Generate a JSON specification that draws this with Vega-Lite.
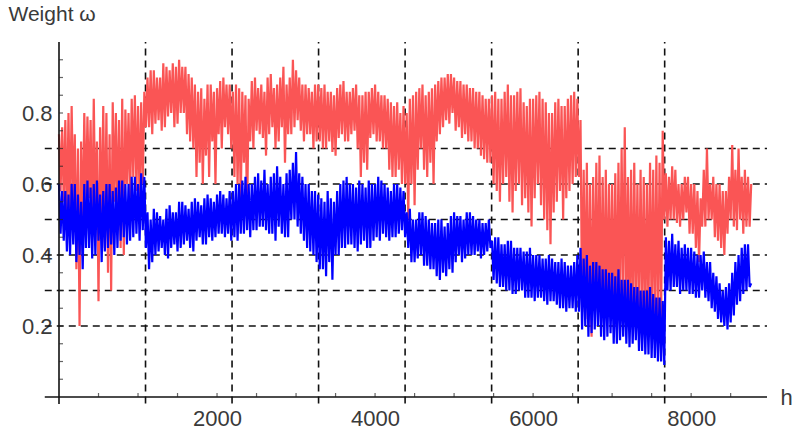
{
  "$schema": "https://vega.github.io/schema/vega-lite/v6.json",
  "width": 708,
  "height": 355,
  "autosize": {"type": "none"},
  "padding": {"left": 59, "top": 42, "right": 28, "bottom": 35},
  "background": "white",
  "config": {
    "view": {"stroke": null},
    "axis": {
      "labelFont": "Liberation Sans",
      "labelFontSize": 22,
      "labelColor": "#3a3a3a",
      "labelOverlap": false,
      "titleFont": "Liberation Sans",
      "titleColor": "#3a3a3a",
      "titleFontWeight": "normal",
      "domain": false,
      "grid": false,
      "ticks": false
    }
  },
  "data": {
    "values": [
      {"h":0,"r":0.74,"b":0.6},{"h":20,"r":0.58,"b":0.46},{"h":40,"r":0.76,"b":0.58},{"h":60,"r":0.55,"b":0.44},{"h":80,"r":0.78,"b":0.58},{"h":100,"r":0.48,"b":0.41},{"h":120,"r":0.8,"b":0.57},{"h":140,"r":0.5,"b":0.4},{"h":160,"r":0.82,"b":0.6},{"h":180,"r":0.55,"b":0.43},
      {"h":200,"r":0.74,"b":0.6},{"h":220,"r":0.36,"b":0.38},{"h":240,"r":0.7,"b":0.57},{"h":260,"r":0.2,"b":0.4},{"h":280,"r":0.72,"b":0.55},{"h":300,"r":0.45,"b":0.36},{"h":320,"r":0.8,"b":0.6},{"h":340,"r":0.52,"b":0.42},{"h":360,"r":0.79,"b":0.61},{"h":380,"r":0.56,"b":0.42},
      {"h":400,"r":0.78,"b":0.59},{"h":420,"r":0.45,"b":0.39},{"h":440,"r":0.84,"b":0.6},{"h":460,"r":0.5,"b":0.4},{"h":480,"r":0.72,"b":0.61},{"h":500,"r":0.27,"b":0.44},{"h":520,"r":0.76,"b":0.57},{"h":540,"r":0.46,"b":0.38},{"h":560,"r":0.82,"b":0.58},{"h":580,"r":0.42,"b":0.41},
      {"h":600,"r":0.8,"b":0.6},{"h":620,"r":0.35,"b":0.42},{"h":640,"r":0.74,"b":0.6},{"h":660,"r":0.3,"b":0.43},{"h":680,"r":0.83,"b":0.58},{"h":700,"r":0.55,"b":0.4},{"h":720,"r":0.8,"b":0.59},{"h":740,"r":0.5,"b":0.42},{"h":760,"r":0.78,"b":0.61},{"h":780,"r":0.42,"b":0.44},
      {"h":800,"r":0.84,"b":0.61},{"h":820,"r":0.4,"b":0.45},{"h":840,"r":0.81,"b":0.6},{"h":860,"r":0.6,"b":0.43},{"h":880,"r":0.8,"b":0.6},{"h":900,"r":0.55,"b":0.44},{"h":920,"r":0.84,"b":0.62},{"h":940,"r":0.62,"b":0.45},{"h":960,"r":0.85,"b":0.62},{"h":980,"r":0.58,"b":0.46},
      {"h":1000,"r":0.82,"b":0.6},{"h":1020,"r":0.55,"b":0.44},{"h":1040,"r":0.83,"b":0.63},{"h":1060,"r":0.6,"b":0.47},{"h":1080,"r":0.86,"b":0.62},{"h":1100,"r":0.76,"b":0.42},{"h":1120,"r":0.9,"b":0.52},{"h":1140,"r":0.76,"b":0.36},{"h":1160,"r":0.92,"b":0.5},{"h":1180,"r":0.74,"b":0.38},
      {"h":1200,"r":0.92,"b":0.53},{"h":1220,"r":0.77,"b":0.4},{"h":1240,"r":0.9,"b":0.52},{"h":1260,"r":0.78,"b":0.41},{"h":1280,"r":0.9,"b":0.51},{"h":1300,"r":0.75,"b":0.42},{"h":1320,"r":0.94,"b":0.5},{"h":1340,"r":0.76,"b":0.4},{"h":1360,"r":0.93,"b":0.53},{"h":1380,"r":0.79,"b":0.39},
      {"h":1400,"r":0.92,"b":0.54},{"h":1420,"r":0.8,"b":0.42},{"h":1440,"r":0.94,"b":0.52},{"h":1460,"r":0.76,"b":0.43},{"h":1480,"r":0.93,"b":0.52},{"h":1500,"r":0.77,"b":0.41},{"h":1520,"r":0.95,"b":0.55},{"h":1540,"r":0.8,"b":0.42},{"h":1560,"r":0.93,"b":0.55},{"h":1580,"r":0.8,"b":0.43},
      {"h":1600,"r":0.93,"b":0.54},{"h":1620,"r":0.74,"b":0.44},{"h":1640,"r":0.91,"b":0.53},{"h":1660,"r":0.72,"b":0.42},{"h":1680,"r":0.9,"b":0.55},{"h":1700,"r":0.7,"b":0.41},{"h":1720,"r":0.88,"b":0.56},{"h":1740,"r":0.62,"b":0.44},{"h":1760,"r":0.86,"b":0.55},{"h":1780,"r":0.66,"b":0.45},
      {"h":1800,"r":0.87,"b":0.54},{"h":1820,"r":0.6,"b":0.43},{"h":1840,"r":0.84,"b":0.56},{"h":1860,"r":0.68,"b":0.43},{"h":1880,"r":0.88,"b":0.57},{"h":1900,"r":0.62,"b":0.45},{"h":1920,"r":0.88,"b":0.56},{"h":1940,"r":0.72,"b":0.44},{"h":1960,"r":0.86,"b":0.55},{"h":1980,"r":0.6,"b":0.45},
      {"h":2000,"r":0.87,"b":0.57},{"h":2020,"r":0.74,"b":0.46},{"h":2040,"r":0.89,"b":0.58},{"h":2060,"r":0.7,"b":0.46},{"h":2080,"r":0.9,"b":0.57},{"h":2100,"r":0.76,"b":0.45},{"h":2120,"r":0.88,"b":0.56},{"h":2140,"r":0.74,"b":0.46},{"h":2160,"r":0.88,"b":0.58},{"h":2180,"r":0.7,"b":0.44},
      {"h":2200,"r":0.86,"b":0.58},{"h":2220,"r":0.62,"b":0.45},{"h":2240,"r":0.88,"b":0.6},{"h":2260,"r":0.6,"b":0.44},{"h":2280,"r":0.87,"b":0.6},{"h":2300,"r":0.55,"b":0.46},{"h":2320,"r":0.86,"b":0.61},{"h":2340,"r":0.66,"b":0.46},{"h":2360,"r":0.85,"b":0.62},{"h":2380,"r":0.5,"b":0.47},
      {"h":2400,"r":0.84,"b":0.6},{"h":2420,"r":0.72,"b":0.45},{"h":2440,"r":0.89,"b":0.6},{"h":2460,"r":0.7,"b":0.47},{"h":2480,"r":0.9,"b":0.62},{"h":2500,"r":0.75,"b":0.47},{"h":2520,"r":0.87,"b":0.63},{"h":2540,"r":0.74,"b":0.48},{"h":2560,"r":0.88,"b":0.61},{"h":2580,"r":0.73,"b":0.48},
      {"h":2600,"r":0.86,"b":0.64},{"h":2620,"r":0.68,"b":0.47},{"h":2640,"r":0.9,"b":0.6},{"h":2660,"r":0.74,"b":0.46},{"h":2680,"r":0.91,"b":0.62},{"h":2700,"r":0.76,"b":0.46},{"h":2720,"r":0.87,"b":0.63},{"h":2740,"r":0.7,"b":0.44},{"h":2760,"r":0.88,"b":0.65},{"h":2780,"r":0.72,"b":0.48},
      {"h":2800,"r":0.9,"b":0.62},{"h":2820,"r":0.76,"b":0.46},{"h":2840,"r":0.93,"b":0.6},{"h":2860,"r":0.66,"b":0.45},{"h":2880,"r":0.88,"b":0.63},{"h":2900,"r":0.74,"b":0.45},{"h":2920,"r":0.9,"b":0.64},{"h":2940,"r":0.74,"b":0.5},{"h":2960,"r":0.95,"b":0.66},{"h":2980,"r":0.76,"b":0.5},
      {"h":3000,"r":0.92,"b":0.69},{"h":3020,"r":0.78,"b":0.48},{"h":3040,"r":0.9,"b":0.63},{"h":3060,"r":0.75,"b":0.46},{"h":3080,"r":0.88,"b":0.62},{"h":3100,"r":0.72,"b":0.44},{"h":3120,"r":0.88,"b":0.6},{"h":3140,"r":0.74,"b":0.42},{"h":3160,"r":0.87,"b":0.6},{"h":3180,"r":0.74,"b":0.41},
      {"h":3200,"r":0.86,"b":0.58},{"h":3220,"r":0.7,"b":0.4},{"h":3240,"r":0.88,"b":0.58},{"h":3260,"r":0.72,"b":0.38},{"h":3280,"r":0.88,"b":0.57},{"h":3300,"r":0.72,"b":0.36},{"h":3320,"r":0.87,"b":0.56},{"h":3340,"r":0.7,"b":0.36},{"h":3360,"r":0.88,"b":0.55},{"h":3380,"r":0.7,"b":0.34},
      {"h":3400,"r":0.86,"b":0.58},{"h":3420,"r":0.72,"b":0.38},{"h":3440,"r":0.86,"b":0.56},{"h":3460,"r":0.69,"b":0.33},{"h":3480,"r":0.85,"b":0.55},{"h":3500,"r":0.68,"b":0.4},{"h":3520,"r":0.87,"b":0.58},{"h":3540,"r":0.73,"b":0.4},{"h":3560,"r":0.88,"b":0.6},{"h":3580,"r":0.74,"b":0.42},
      {"h":3600,"r":0.89,"b":0.61},{"h":3620,"r":0.72,"b":0.42},{"h":3640,"r":0.86,"b":0.62},{"h":3660,"r":0.72,"b":0.43},{"h":3680,"r":0.86,"b":0.6},{"h":3700,"r":0.74,"b":0.43},{"h":3720,"r":0.87,"b":0.6},{"h":3740,"r":0.75,"b":0.42},{"h":3760,"r":0.88,"b":0.59},{"h":3780,"r":0.7,"b":0.41},
      {"h":3800,"r":0.85,"b":0.61},{"h":3820,"r":0.62,"b":0.43},{"h":3840,"r":0.85,"b":0.6},{"h":3860,"r":0.66,"b":0.44},{"h":3880,"r":0.86,"b":0.59},{"h":3900,"r":0.64,"b":0.42},{"h":3920,"r":0.86,"b":0.61},{"h":3940,"r":0.73,"b":0.42},{"h":3960,"r":0.87,"b":0.6},{"h":3980,"r":0.74,"b":0.44},
      {"h":4000,"r":0.88,"b":0.6},{"h":4020,"r":0.72,"b":0.45},{"h":4040,"r":0.86,"b":0.62},{"h":4060,"r":0.72,"b":0.44},{"h":4080,"r":0.85,"b":0.61},{"h":4100,"r":0.7,"b":0.46},{"h":4120,"r":0.85,"b":0.6},{"h":4140,"r":0.7,"b":0.45},{"h":4160,"r":0.84,"b":0.59},{"h":4180,"r":0.64,"b":0.44},
      {"h":4200,"r":0.83,"b":0.58},{"h":4220,"r":0.62,"b":0.45},{"h":4240,"r":0.82,"b":0.6},{"h":4260,"r":0.62,"b":0.45},{"h":4280,"r":0.83,"b":0.6},{"h":4300,"r":0.64,"b":0.46},{"h":4320,"r":0.8,"b":0.59},{"h":4340,"r":0.6,"b":0.47},{"h":4360,"r":0.82,"b":0.58},{"h":4380,"r":0.6,"b":0.45},
      {"h":4400,"r":0.8,"b":0.52},{"h":4420,"r":0.5,"b":0.42},{"h":4440,"r":0.84,"b":0.53},{"h":4460,"r":0.6,"b":0.38},{"h":4480,"r":0.85,"b":0.5},{"h":4500,"r":0.54,"b":0.38},{"h":4520,"r":0.86,"b":0.5},{"h":4540,"r":0.64,"b":0.39},{"h":4560,"r":0.87,"b":0.52},{"h":4580,"r":0.7,"b":0.4},
      {"h":4600,"r":0.88,"b":0.52},{"h":4620,"r":0.64,"b":0.37},{"h":4640,"r":0.85,"b":0.51},{"h":4660,"r":0.62,"b":0.37},{"h":4680,"r":0.86,"b":0.5},{"h":4700,"r":0.66,"b":0.36},{"h":4720,"r":0.87,"b":0.49},{"h":4740,"r":0.6,"b":0.36},{"h":4760,"r":0.88,"b":0.49},{"h":4780,"r":0.72,"b":0.34},
      {"h":4800,"r":0.89,"b":0.5},{"h":4820,"r":0.74,"b":0.33},{"h":4840,"r":0.9,"b":0.5},{"h":4860,"r":0.76,"b":0.35},{"h":4880,"r":0.9,"b":0.48},{"h":4900,"r":0.78,"b":0.34},{"h":4920,"r":0.91,"b":0.49},{"h":4940,"r":0.77,"b":0.36},{"h":4960,"r":0.91,"b":0.51},{"h":4980,"r":0.8,"b":0.35},
      {"h":5000,"r":0.9,"b":0.52},{"h":5020,"r":0.75,"b":0.38},{"h":5040,"r":0.89,"b":0.51},{"h":5060,"r":0.76,"b":0.4},{"h":5080,"r":0.89,"b":0.51},{"h":5100,"r":0.73,"b":0.38},{"h":5120,"r":0.88,"b":0.5},{"h":5140,"r":0.74,"b":0.39},{"h":5160,"r":0.88,"b":0.52},{"h":5180,"r":0.72,"b":0.4},
      {"h":5200,"r":0.87,"b":0.52},{"h":5220,"r":0.72,"b":0.4},{"h":5240,"r":0.87,"b":0.51},{"h":5260,"r":0.7,"b":0.4},{"h":5280,"r":0.86,"b":0.5},{"h":5300,"r":0.7,"b":0.41},{"h":5320,"r":0.86,"b":0.5},{"h":5340,"r":0.68,"b":0.39},{"h":5360,"r":0.85,"b":0.49},{"h":5380,"r":0.67,"b":0.4},
      {"h":5400,"r":0.84,"b":0.49},{"h":5420,"r":0.66,"b":0.41},{"h":5440,"r":0.84,"b":0.5},{"h":5460,"r":0.66,"b":0.42},{"h":5480,"r":0.85,"b":0.44},{"h":5500,"r":0.6,"b":0.33},{"h":5520,"r":0.86,"b":0.45},{"h":5540,"r":0.58,"b":0.32},{"h":5560,"r":0.84,"b":0.45},{"h":5580,"r":0.55,"b":0.31},
      {"h":5600,"r":0.84,"b":0.43},{"h":5620,"r":0.6,"b":0.31},{"h":5640,"r":0.86,"b":0.43},{"h":5660,"r":0.62,"b":0.3},{"h":5680,"r":0.88,"b":0.44},{"h":5700,"r":0.55,"b":0.3},{"h":5720,"r":0.85,"b":0.44},{"h":5740,"r":0.52,"b":0.29},{"h":5760,"r":0.85,"b":0.42},{"h":5780,"r":0.58,"b":0.29},
      {"h":5800,"r":0.86,"b":0.42},{"h":5820,"r":0.6,"b":0.3},{"h":5840,"r":0.87,"b":0.42},{"h":5860,"r":0.54,"b":0.3},{"h":5880,"r":0.83,"b":0.41},{"h":5900,"r":0.56,"b":0.28},{"h":5920,"r":0.82,"b":0.41},{"h":5940,"r":0.52,"b":0.28},{"h":5960,"r":0.84,"b":0.42},{"h":5980,"r":0.48,"b":0.28},
      {"h":6000,"r":0.84,"b":0.4},{"h":6020,"r":0.56,"b":0.27},{"h":6040,"r":0.85,"b":0.4},{"h":6060,"r":0.6,"b":0.28},{"h":6080,"r":0.86,"b":0.4},{"h":6100,"r":0.54,"b":0.28},{"h":6120,"r":0.84,"b":0.39},{"h":6140,"r":0.5,"b":0.27},{"h":6160,"r":0.83,"b":0.39},{"h":6180,"r":0.47,"b":0.26},
      {"h":6200,"r":0.8,"b":0.4},{"h":6220,"r":0.43,"b":0.27},{"h":6240,"r":0.8,"b":0.39},{"h":6260,"r":0.52,"b":0.27},{"h":6280,"r":0.83,"b":0.38},{"h":6300,"r":0.55,"b":0.26},{"h":6320,"r":0.84,"b":0.38},{"h":6340,"r":0.58,"b":0.25},{"h":6360,"r":0.82,"b":0.39},{"h":6380,"r":0.5,"b":0.25},
      {"h":6400,"r":0.82,"b":0.38},{"h":6420,"r":0.56,"b":0.24},{"h":6440,"r":0.84,"b":0.37},{"h":6460,"r":0.58,"b":0.25},{"h":6480,"r":0.85,"b":0.37},{"h":6500,"r":0.6,"b":0.25},{"h":6520,"r":0.86,"b":0.38},{"h":6540,"r":0.62,"b":0.24},{"h":6560,"r":0.84,"b":0.4},{"h":6580,"r":0.62,"b":0.24},
      {"h":6600,"r":0.78,"b":0.42},{"h":6620,"r":0.24,"b":0.19},{"h":6640,"r":0.64,"b":0.39},{"h":6660,"r":0.22,"b":0.2},{"h":6680,"r":0.66,"b":0.4},{"h":6700,"r":0.2,"b":0.17},{"h":6720,"r":0.6,"b":0.37},{"h":6740,"r":0.17,"b":0.18},{"h":6760,"r":0.62,"b":0.38},{"h":6780,"r":0.25,"b":0.19},
      {"h":6800,"r":0.66,"b":0.38},{"h":6820,"r":0.24,"b":0.2},{"h":6840,"r":0.68,"b":0.37},{"h":6860,"r":0.21,"b":0.17},{"h":6880,"r":0.62,"b":0.36},{"h":6900,"r":0.22,"b":0.16},{"h":6920,"r":0.64,"b":0.36},{"h":6940,"r":0.23,"b":0.17},{"h":6960,"r":0.6,"b":0.35},{"h":6980,"r":0.26,"b":0.18},
      {"h":7000,"r":0.6,"b":0.35},{"h":7020,"r":0.22,"b":0.15},{"h":7040,"r":0.63,"b":0.34},{"h":7060,"r":0.2,"b":0.15},{"h":7080,"r":0.66,"b":0.36},{"h":7100,"r":0.24,"b":0.16},{"h":7120,"r":0.7,"b":0.33},{"h":7140,"r":0.28,"b":0.17},{"h":7160,"r":0.76,"b":0.33},{"h":7180,"r":0.22,"b":0.15},
      {"h":7200,"r":0.62,"b":0.33},{"h":7220,"r":0.22,"b":0.14},{"h":7240,"r":0.64,"b":0.32},{"h":7260,"r":0.2,"b":0.15},{"h":7280,"r":0.66,"b":0.31},{"h":7300,"r":0.25,"b":0.16},{"h":7320,"r":0.6,"b":0.31},{"h":7340,"r":0.24,"b":0.13},{"h":7360,"r":0.64,"b":0.3},{"h":7380,"r":0.22,"b":0.13},
      {"h":7400,"r":0.62,"b":0.3},{"h":7420,"r":0.2,"b":0.12},{"h":7440,"r":0.6,"b":0.3},{"h":7460,"r":0.24,"b":0.12},{"h":7480,"r":0.66,"b":0.31},{"h":7500,"r":0.22,"b":0.11},{"h":7520,"r":0.64,"b":0.29},{"h":7540,"r":0.2,"b":0.11},{"h":7560,"r":0.68,"b":0.28},{"h":7580,"r":0.21,"b":0.1},
      {"h":7600,"r":0.66,"b":0.28},{"h":7620,"r":0.22,"b":0.1},{"h":7640,"r":0.75,"b":0.27},{"h":7660,"r":0.5,"b":0.09},{"h":7680,"r":0.63,"b":0.45},{"h":7700,"r":0.48,"b":0.3},{"h":7720,"r":0.62,"b":0.44},{"h":7740,"r":0.5,"b":0.3},{"h":7760,"r":0.65,"b":0.46},{"h":7780,"r":0.5,"b":0.31},
      {"h":7800,"r":0.64,"b":0.43},{"h":7820,"r":0.49,"b":0.31},{"h":7840,"r":0.6,"b":0.44},{"h":7860,"r":0.48,"b":0.29},{"h":7880,"r":0.6,"b":0.42},{"h":7900,"r":0.5,"b":0.3},{"h":7920,"r":0.62,"b":0.43},{"h":7940,"r":0.52,"b":0.3},{"h":7960,"r":0.62,"b":0.42},{"h":7980,"r":0.46,"b":0.29},
      {"h":8000,"r":0.6,"b":0.42},{"h":8020,"r":0.46,"b":0.29},{"h":8040,"r":0.6,"b":0.41},{"h":8060,"r":0.42,"b":0.28},{"h":8080,"r":0.58,"b":0.4},{"h":8100,"r":0.38,"b":0.28},{"h":8120,"r":0.56,"b":0.4},{"h":8140,"r":0.48,"b":0.3},{"h":8160,"r":0.64,"b":0.41},{"h":8180,"r":0.48,"b":0.28},
      {"h":8200,"r":0.7,"b":0.38},{"h":8220,"r":0.5,"b":0.27},{"h":8240,"r":0.6,"b":0.38},{"h":8260,"r":0.5,"b":0.25},{"h":8280,"r":0.62,"b":0.35},{"h":8300,"r":0.45,"b":0.24},{"h":8320,"r":0.6,"b":0.34},{"h":8340,"r":0.44,"b":0.22},{"h":8360,"r":0.6,"b":0.32},{"h":8380,"r":0.42,"b":0.21},
      {"h":8400,"r":0.58,"b":0.3},{"h":8420,"r":0.4,"b":0.2},{"h":8440,"r":0.58,"b":0.31},{"h":8460,"r":0.46,"b":0.19},{"h":8480,"r":0.62,"b":0.32},{"h":8500,"r":0.5,"b":0.21},{"h":8520,"r":0.71,"b":0.35},{"h":8540,"r":0.48,"b":0.23},{"h":8560,"r":0.64,"b":0.38},{"h":8580,"r":0.47,"b":0.26},
      {"h":8600,"r":0.7,"b":0.4},{"h":8620,"r":0.5,"b":0.27},{"h":8640,"r":0.62,"b":0.42},{"h":8660,"r":0.46,"b":0.29},{"h":8680,"r":0.64,"b":0.43},{"h":8700,"r":0.48,"b":0.3},{"h":8720,"r":0.62,"b":0.43},{"h":8740,"r":0.48,"b":0.31},{"h":8760,"r":0.6,"b":0.32}
    ]
  },
  "layer": [
    {
      "data": {"values": [{"g":0.2},{"g":0.3},{"g":0.4},{"g":0.5},{"g":0.6},{"g":0.7}]},
      "mark": {"type": "rule", "color": "#111", "strokeWidth": 1.6, "strokeDash": [7, 5], "clip": false},
      "encoding": {
        "y": {
          "field": "g", "type": "quantitative", "title": "Weight ω",
          "scale": {"domain": [0, 1], "nice": false, "zero": false},
          "axis": {
            "title": "Weight ω",
            "values": [0.2, 0.4, 0.6, 0.8],
            "format": ".1f",
            "labelPadding": 7,
            "titleFontSize": 21,
            "titleX": -51, "titleY": -28, "titleAlign": "left", "titleBaseline": "middle", "titleAngle": 0
          }
        },
        "x": {
          "datum": -180, "type": "quantitative", "title": "h",
          "scale": {"domain": [0, 8960], "nice": false, "zero": false},
          "axis": {
            "title": "h",
            "values": [2000, 4000, 6000, 8000],
            "format": "d",
            "labelPadding": 11,
            "titleFontSize": 22,
            "titleX": 727, "titleY": 0, "titleAlign": "center", "titleBaseline": "middle", "titleAngle": 0
          }
        },
        "x2": {"datum": 8960}
      }
    },
    {
      "data": {"values": [{"v":1095},{"v":2190},{"v":3285},{"v":4380},{"v":5475},{"v":6570},{"v":7665}]},
      "mark": {"type": "rule", "color": "#111", "strokeWidth": 1.6, "strokeDash": [7, 5], "clip": false},
      "encoding": {
        "x": {"field": "v", "type": "quantitative", "title": "h"},
        "y": {"datum": -0.018, "type": "quantitative", "title": "Weight ω"},
        "y2": {"datum": 1}
      }
    },
    {
      "mark": {"type": "line", "color": "#FA5555", "strokeWidth": 2.2, "strokeJoin": "miter", "strokeMiterLimit": 2},
      "encoding": {
        "x": {"field": "h", "type": "quantitative", "title": "h"},
        "y": {"field": "r", "type": "quantitative", "title": "Weight ω"}
      }
    },
    {
      "mark": {"type": "line", "color": "#0000FF", "strokeWidth": 2.2, "strokeJoin": "miter", "strokeMiterLimit": 2},
      "encoding": {
        "x": {"field": "h", "type": "quantitative", "title": "h"},
        "y": {"field": "b", "type": "quantitative", "title": "Weight ω"}
      }
    },
    {
      "data": {"values": [{"a": 0}]},
      "mark": {"type": "rule", "color": "#111", "strokeWidth": 1.6, "clip": false},
      "encoding": {
        "y": {"field": "a", "type": "quantitative", "title": "Weight ω"},
        "x": {"datum": -180, "type": "quantitative", "title": "h"},
        "x2": {"datum": 8960}
      }
    },
    {
      "data": {"values": [{"a": 0}]},
      "mark": {"type": "rule", "color": "#111", "strokeWidth": 1.6, "clip": false},
      "encoding": {
        "x": {"field": "a", "type": "quantitative", "title": "h"},
        "y": {"datum": -0.02, "type": "quantitative", "title": "Weight ω"},
        "y2": {"datum": 1}
      }
    },
    {
      "data": {"values": [{"t":0.05},{"t":0.1},{"t":0.15},{"t":0.2},{"t":0.25},{"t":0.3},{"t":0.35},{"t":0.4},{"t":0.45},{"t":0.5},{"t":0.55},{"t":0.6},{"t":0.65},{"t":0.7},{"t":0.75},{"t":0.8},{"t":0.85},{"t":0.9},{"t":0.95}]},
      "mark": {"type": "tick", "orient": "horizontal", "color": "#222", "size": 4, "thickness": 1.2, "xOffset": 2, "clip": false},
      "encoding": {
        "y": {"field": "t", "type": "quantitative", "title": "Weight ω"},
        "x": {"datum": 0, "type": "quantitative", "title": "h"}
      }
    },
    {
      "data": {"values": [{"t":500},{"t":1000},{"t":1500},{"t":2000},{"t":2500},{"t":3000},{"t":3500},{"t":4000},{"t":4500},{"t":5000},{"t":5500},{"t":6000},{"t":6500},{"t":7000},{"t":7500},{"t":8000},{"t":8500}]},
      "mark": {"type": "tick", "orient": "vertical", "color": "#222", "size": 4, "thickness": 1.2, "yOffset": -2, "clip": false},
      "encoding": {
        "x": {"field": "t", "type": "quantitative", "title": "h"},
        "y": {"datum": 0, "type": "quantitative", "title": "Weight ω"}
      }
    }
  ]
}
